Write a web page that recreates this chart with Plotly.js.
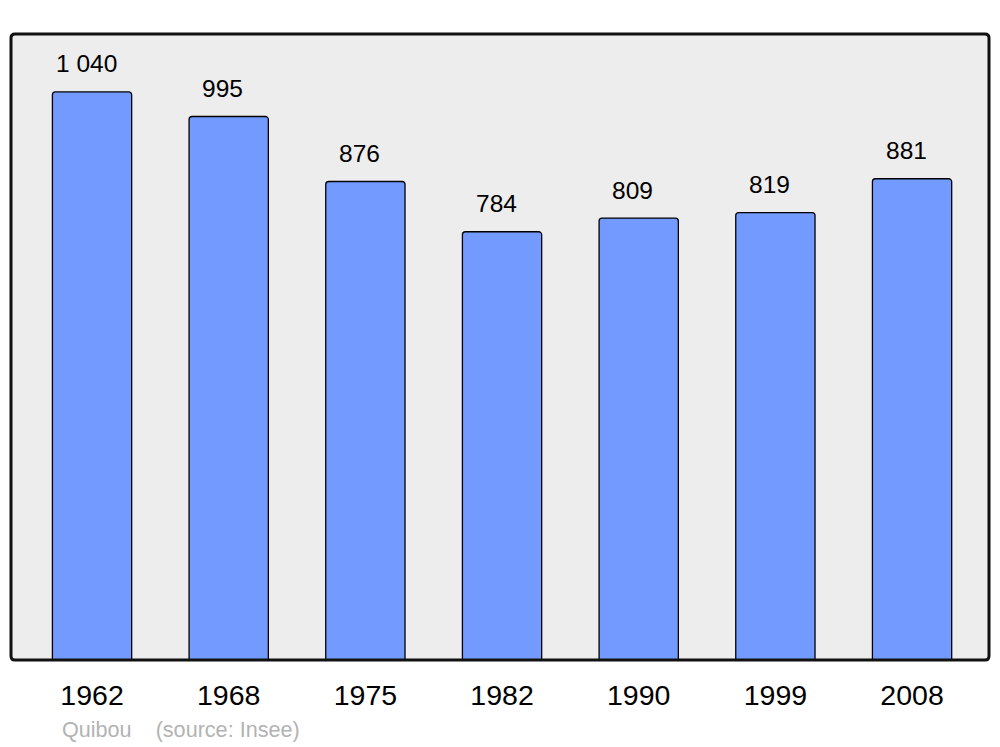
<!DOCTYPE html>
<html><head><meta charset="utf-8">
<script src="https://cdn.plot.ly/plotly-3.0.1.min.js"></script>
<style>html,body{margin:0;padding:0;background:#fff;}#chart{width:1000px;height:747px;}</style>
</head><body><div id="chart"></div>
<script>
const years = ["1962","1968","1975","1982","1990","1999","2008"];
const population = [1040, 995, 876, 784, 809, 819, 881];
const labels = ["1 040","995","876","784","809","819","881"];

const xs = years.map((_, i) => i);
const rx = 4/978, ry = 4/626;
const framePath = `M ${rx},0 L ${1-rx},0 Q 1,0 1,${ry} L 1,${1-ry} Q 1,1 ${1-rx},1 L ${rx},1 Q 0,1 0,${1-ry} L 0,${ry} Q 0,0 ${rx},0 Z`;
const FONT = '"Liberation Sans", Arial, sans-serif';

const annotations = xs.map((x, i) => ({
  x: x, y: population[i], xref: 'x', yref: 'y', text: labels[i], showarrow: false,
  xanchor: 'center', yanchor: 'middle', xshift: -6, yshift: 28,
  font: {family: FONT, size: 24.5, color: '#000'}
}));
annotations.push({
  xref: 'paper', yref: 'paper', x: 0.0496, y: -0.1118, xanchor: 'left', yanchor: 'middle',
  text: 'Quibou&nbsp;&nbsp;&nbsp;&nbsp;(source: Insee)', showarrow: false,
  font: {family: FONT, size: 21.6, color: '#b3b3b3'}
});

Plotly.newPlot('chart', [{
  type: 'bar', x: xs, y: population, width: 0.58,
  marker: {color: '#729aff', line: {color: '#000', width: 1.3}, cornerradius: 3},
  hoverinfo: 'none'
}], {
  width: 1000, height: 747,
  margin: {l: 11, r: 11, t: 34, b: 87, pad: 0},
  paper_bgcolor: '#fff', plot_bgcolor: '#ededed',
  showlegend: false,
  xaxis: {range: [-0.593, 6.563], tickvals: xs, ticktext: years, showgrid: false, zeroline: false,
          showline: false, ticks: '', ticklabelstandoff: 15,
          tickfont: {family: FONT, size: 28.5, color: '#000'}},
  yaxis: {range: [0, 1146], showgrid: false, zeroline: false, showticklabels: false, showline: false, ticks: ''},
  shapes: [{type: 'path', xref: 'paper', yref: 'paper', path: framePath, line: {color: '#111', width: 3}, fillcolor: 'rgba(0,0,0,0)', layer: 'above'}],
  annotations: annotations
}, {staticPlot: true});
</script></body></html>
